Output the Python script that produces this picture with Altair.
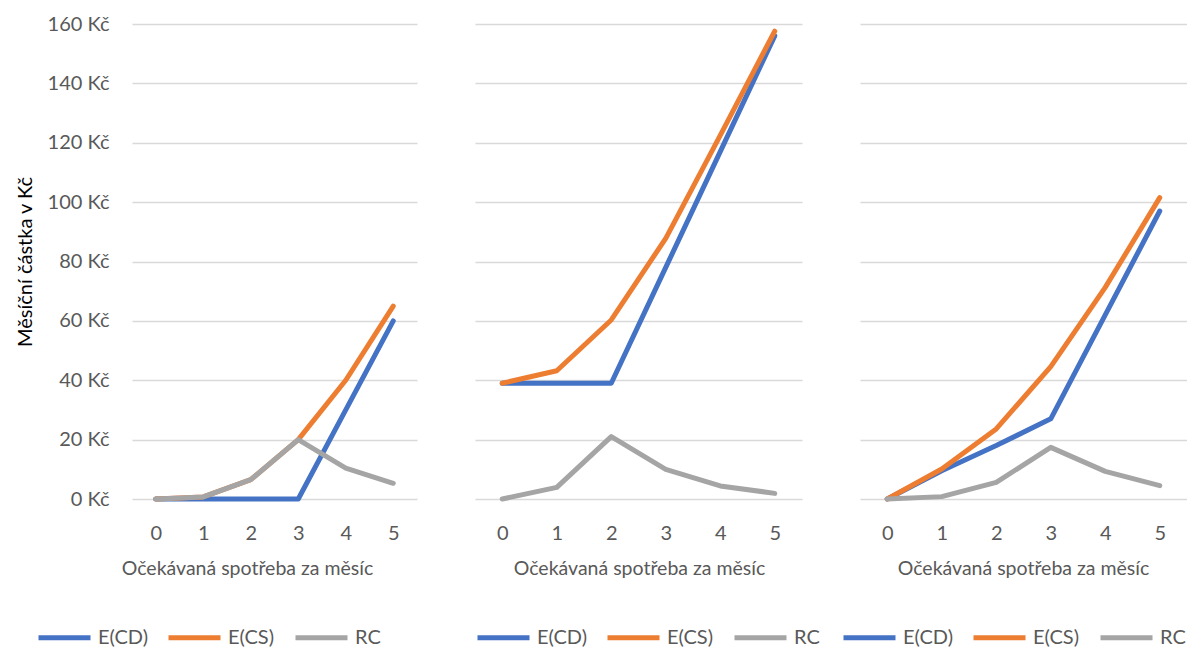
import altair as alt
import pandas as pd

# Expected monthly consumption (categories on the x axis)
consumption = [0, 1, 2, 3, 4, 5]
series_names = ["E(CD)", "E(CS)", "RC"]
series_colors = ["#4472C4", "#ED7D31", "#A5A5A5"]

# Panel 1
p1_cd = [0, 0, 0, 0, 30, 60]
p1_cs = [0, 0.7, 6.5, 20, 40, 65]
p1_rc = [0, 0.7, 6.5, 20, 10.4, 5.3]

# Panel 2
p2_cd = [39, 39, 39, 78, 117, 156]
p2_cs = [39, 43.2, 60.3, 87.8, 122.5, 157.6]
p2_rc = [0, 3.9, 21, 10, 4.4, 1.9]

# Panel 3
p3_cd = [0, 9.5, 18, 27, 62, 97]
p3_cs = [0, 10.1, 23.6, 44.6, 71.3, 101.5]
p3_rc = [0, 0.8, 5.6, 17.4, 9.3, 4.5]

y_ticks = [0, 20, 40, 60, 80, 100, 120, 140, 160]

FONT = "Lato"
GREY_TEXT = "#595959"
GRID = "#D9D9D9"
PLOT_H = 475


def frame(cd, cs, rc):
    rows = []
    for name, vals in zip(series_names, [cd, cs, rc]):
        for x, v in zip(consumption, vals):
            rows.append({"x": x, "series": name, "value": v})
    return pd.DataFrame(rows)


def panel(df, width, first, legend_x, title_x):
    y_axis = alt.Axis(
        values=y_ticks,
        labelExpr="datum.value + ' Kč'",
        labels=first,
        domain=False,
        ticks=False,
        grid=True,
        gridColor=GRID,
        gridWidth=1.5,
        labelColor=GREY_TEXT,
        labelFontSize=20,
        labelPadding=23,
        titleColor="#000000",
        titleFontSize=20,
        titleFontWeight="normal",
        titlePadding=12,
    )
    x_axis = alt.Axis(
        labelAngle=0,
        domain=False,
        ticks=False,
        grid=False,
        labelColor=GREY_TEXT,
        labelFontSize=20,
        labelPadding=24.5,
        titleColor=GREY_TEXT,
        titleFontSize=19.5,
        titleFontWeight="normal",
        titlePadding=16,
        titleX=title_x,
        titleAlign="center",
    )
    y_title = "Měsíční částka v Kč" if first else None
    return (
        alt.Chart(df)
        .mark_line(strokeWidth=5, strokeCap="round", strokeJoin="round")
        .encode(
            x=alt.X(
                "x:O",
                title="Očekávaná spotřeba za měsíc",
                axis=x_axis,
                scale=alt.Scale(paddingInner=1, paddingOuter=0.5),
            ),
            y=alt.Y(
                "value:Q",
                title=y_title,
                axis=y_axis,
                scale=alt.Scale(domain=[0, 160], nice=False),
            ),
            color=alt.Color(
                "series:N",
                scale=alt.Scale(domain=series_names, range=series_colors),
                legend=alt.Legend(
                    title=None,
                    orient="none",
                    direction="horizontal",
                    legendX=legend_x,
                    legendY=585,
                    symbolType="stroke",
                    symbolSize=2704,
                    symbolStrokeWidth=5,
                    labelFontSize=20,
                    labelColor=GREY_TEXT,
                    labelOffset=5,
                    columnPadding=10,
                ),
            ),
        )
        .properties(width=width, height=PLOT_H)
    )


c1 = panel(frame(p1_cd, p1_cs, p1_rc), 285, True, -96, 115)
c2 = panel(frame(p2_cd, p2_cs, p2_rc), 327, False, 0, 164)
c3 = panel(frame(p3_cd, p3_cs, p3_rc), 327, False, -19, 163)

chart = (
    alt.hconcat(c1, c2, c3, spacing=58, bounds="flush")
    .resolve_scale(color="independent")
    .resolve_legend(color="independent")
    .properties(padding={"left": 15, "top": 14, "right": 0, "bottom": 0})
    .configure(font=FONT)
    .configure_view(stroke=None)
)

chart.save("out.html", embed_options={"renderer": "svg", "actions": False})
